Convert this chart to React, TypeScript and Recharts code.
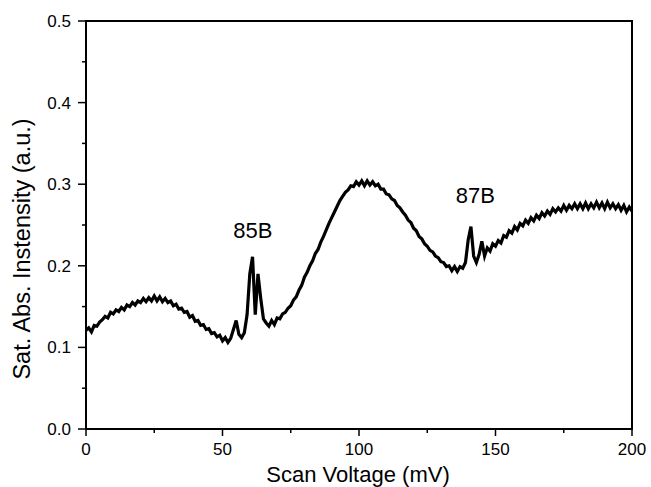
import React from 'react';
import {
  LineChart, Line, XAxis, YAxis, ReferenceArea, ReferenceDot,
} from 'recharts';

// sat. abs. signal, one value per mV (0..200 mV)
const intensity: number[] = [
  0.121, 0.124, 0.119, 0.127, 0.126, 0.131, 0.134, 0.138, 0.136, 0.143,
  0.141, 0.146, 0.144, 0.149, 0.146, 0.152, 0.150, 0.155, 0.152, 0.157,
  0.155, 0.160, 0.156, 0.161, 0.157, 0.163, 0.157, 0.162, 0.156, 0.160,
  0.155, 0.157, 0.151, 0.153, 0.147, 0.148, 0.143, 0.144, 0.137, 0.139,
  0.132, 0.133, 0.127, 0.128, 0.122, 0.123, 0.117, 0.118, 0.113, 0.115,
  0.108, 0.112, 0.106, 0.111, 0.122, 0.133, 0.116, 0.112, 0.118, 0.140,
  0.190, 0.211, 0.140, 0.190, 0.160, 0.135, 0.130, 0.126, 0.133, 0.128,
  0.136, 0.135, 0.141, 0.143, 0.148, 0.151, 0.158, 0.162, 0.170, 0.176,
  0.186, 0.192, 0.200, 0.206, 0.215, 0.220, 0.229, 0.236, 0.244, 0.252,
  0.259, 0.266, 0.273, 0.280, 0.285, 0.290, 0.293, 0.298, 0.297, 0.303,
  0.299, 0.304, 0.298, 0.304, 0.299, 0.303, 0.298, 0.300, 0.294, 0.294,
  0.288, 0.287, 0.282, 0.280, 0.274, 0.271, 0.266, 0.262, 0.256, 0.253,
  0.246, 0.243, 0.236, 0.233, 0.227, 0.224, 0.219, 0.217, 0.212, 0.210,
  0.205, 0.204, 0.199, 0.200, 0.194, 0.199, 0.193, 0.199, 0.197, 0.204,
  0.232, 0.248, 0.212, 0.204, 0.214, 0.230, 0.212, 0.222, 0.218, 0.227,
  0.224, 0.231, 0.228, 0.237, 0.235, 0.243, 0.240, 0.248, 0.244, 0.252,
  0.249, 0.256, 0.252, 0.259, 0.255, 0.262, 0.258, 0.265, 0.261, 0.267,
  0.263, 0.270, 0.266, 0.271, 0.267, 0.274, 0.268, 0.274, 0.270, 0.276,
  0.270, 0.276, 0.270, 0.277, 0.270, 0.276, 0.271, 0.278, 0.271, 0.277,
  0.270, 0.278, 0.271, 0.276, 0.270, 0.275, 0.268, 0.274, 0.266, 0.272,
  0.267,
];

const xTicks = [0, 25, 50, 75, 100, 125, 150, 175, 200];
const xMajor = [0, 50, 100, 150, 200];
const yTicks = [0, 0.05, 0.1, 0.15, 0.2, 0.25, 0.3, 0.35, 0.4, 0.45, 0.5];
const yMajor = ['0.0', '0.1', '0.2', '0.3', '0.4', '0.5'];

const peaks = [
  { label: '85B', x: 61.1, y: 0.244 },
  { label: '87B', x: 142.6, y: 0.286 },
];

const data = intensity.map((v, i) => ({ voltage: i, value: v }));

const FONT = '"Liberation Sans", Arial, Helvetica, sans-serif';
const LEFT = 86;
const BOTTOM = 429;

const XTick = (props: any) => {
  const { x, payload } = props;
  const major = xMajor.includes(payload.value);
  return (
    <g>
      <line x1={x} x2={x} y1={BOTTOM} y2={BOTTOM + (major ? 7 : 4)} stroke="#000" strokeWidth={1.5} />
      {major && (
        <text x={x} y={455} textAnchor="middle" fontSize={17} fontFamily={FONT} fill="#000">
          {payload.value}
        </text>
      )}
    </g>
  );
};

const YTick = (props: any) => {
  const { y, payload } = props;
  const lbl = payload.value.toFixed(1);
  const major = Math.round(payload.value * 100) % 10 === 0;
  return (
    <g>
      <line x1={LEFT - (major ? 8 : 4)} x2={LEFT} y1={y} y2={y} stroke="#000" strokeWidth={1.5} />
      {major && yMajor.includes(lbl) && (
        <text x={71} y={y + 6} textAnchor="end" fontSize={17} fontFamily={FONT} fill="#000">
          {lbl}
        </text>
      )}
    </g>
  );
};

export default function App() {
  return (
    <div style={{ position: 'absolute', left: 0, top: 0, background: '#fff' }}>
      <LineChart
        width={651}
        height={487}
        data={data}
        margin={{ top: 21, right: 19, left: 0, bottom: 0 }}
      >
        <XAxis
          dataKey="voltage"
          type="number"
          domain={[0, 200]}
          ticks={xTicks}
          interval={0}
          height={58}
          tickLine={false}
          axisLine={{ stroke: '#000', strokeWidth: 2 }}
          tick={<XTick />}
          label={{
            content: () => (
              <text x={358} y={482} textAnchor="middle" fontSize={22} fontFamily={FONT} fill="#000">
                Scan Voltage (mV)
              </text>
            ),
          }}
        />
        <YAxis
          type="number"
          domain={[0, 0.5]}
          ticks={yTicks}
          interval={0}
          width={86}
          tickLine={false}
          axisLine={{ stroke: '#000', strokeWidth: 2 }}
          tick={<YTick />}
          label={{
            content: () => (
              <text
                x={30}
                y={249}
                transform="rotate(-90 30 249)"
                textAnchor="middle"
                fontSize={23.5}
                fontFamily={FONT}
                fill="#000"
              >
                Sat. Abs. Instensity (a.u.)
              </text>
            ),
          }}
        />
        <ReferenceArea x1={0} x2={200} y1={0} y2={0.5} fill="none" stroke="#000" strokeWidth={2} />
        <Line
          type="linear"
          dataKey="value"
          stroke="#000"
          strokeWidth={3.2}
          strokeLinejoin="miter"
          dot={false}
          isAnimationActive={false}
        />
        {peaks.map((p) => (
          <ReferenceDot
            key={p.label}
            x={p.x}
            y={p.y}
            r={0}
            fill="none"
            stroke="none"
            label={{ value: p.label, position: 'center', fontSize: 22, fontFamily: FONT, fill: '#000' }}
          />
        ))}
      </LineChart>
    </div>
  );
}
